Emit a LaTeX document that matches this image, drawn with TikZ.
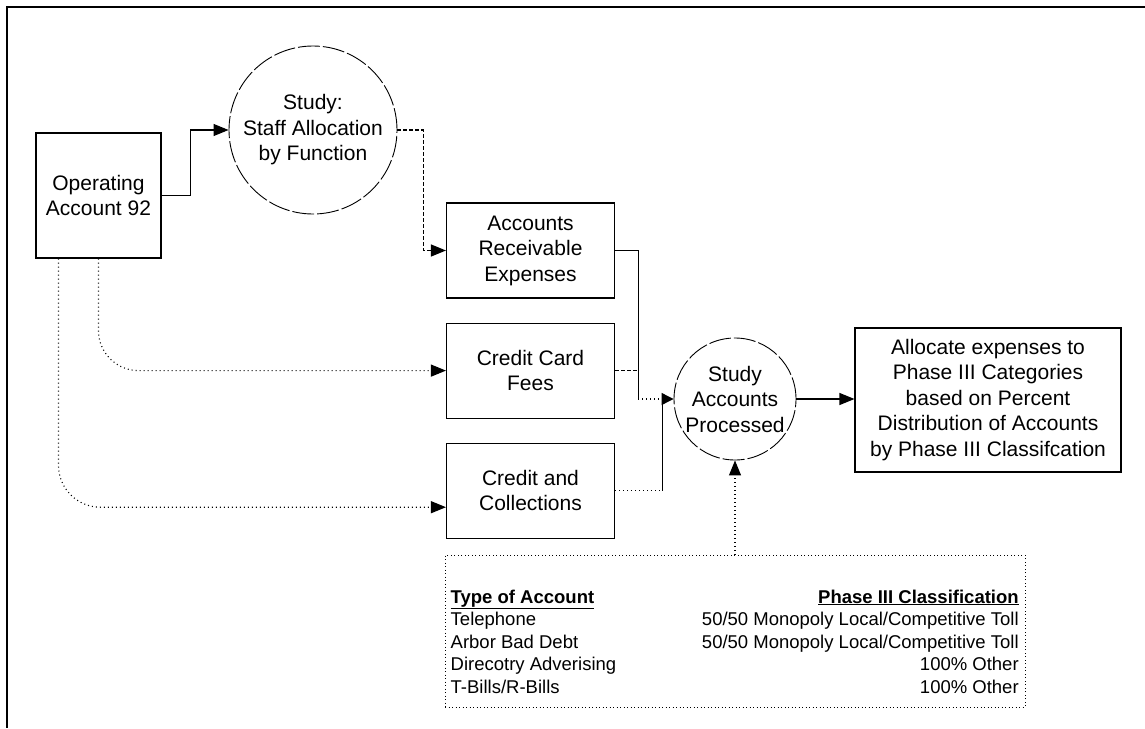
\documentclass[tikz,border=0pt]{standalone}
\usepackage{fontspec}
\setmainfont{Liberation Sans}
\usetikzlibrary{arrows.meta}
\usetikzlibrary{positioning}

\tikzset{
  procbox/.style={draw, line width=1.1pt, minimum width=168pt, minimum height=95pt,
    align=center, inner sep=0pt, font=\fontsize{21}{25.5}\selectfont},
  study/.style={draw, circle, line width=0.9pt, dash pattern=on 22pt off 3pt,
    align=center, inner sep=0pt, font=\fontsize{21}{25.5}\selectfont},
  flow/.style={line width=1.1pt},
  dashflow/.style={flow, dash pattern=on 4pt off 2pt},
  dotflow/.style={flow, dash pattern=on 1pt off 3pt},
  arrowhd/.style={-{Triangle[length=15pt,width=12pt]}},
  tblbox/.style={draw, line width=1pt, dash pattern=on 1pt off 2.5pt,
    minimum width=580pt, minimum height=152pt},
}

\begin{document}
\begin{tikzpicture}[x=1pt,y=-1pt]
      \useasboundingbox (0,0) rectangle (1145,728);
      \draw[line width=1.6pt] (1145,7) -- (7,7) -- (7,728);

      \node[procbox, minimum width=125pt, minimum height=125pt] (op) at (98.5,195.5) {Operating\\Account 92};
      \node[study, minimum size=168pt] (s1) at (313,130) {Study:\\Staff Allocation\\by Function};
      \node[procbox] (ar) at (530.5,250.5) {Accounts\\Receivable\\Expenses};
      \node[procbox, below=24pt of ar] (ccf) {Credit Card\\Fees};
      \node[procbox, below=24pt of ccf] (cc) {Credit and\\Collections};
      \node[study, minimum size=122pt] (s2) at (735,399) {Study\\Accounts\\Processed};
      \node[procbox, minimum width=266pt, minimum height=144pt] (alloc) at (988,400)
        {Allocate expenses to\\Phase III Categories\\based on Percent\\Distribution of Accounts\\by Phase III Classifcation};
      \node[tblbox] (tbl) at (735,631) {};
      \node[anchor=base west, inner sep=0pt, font=\fontsize{18.5}{22.5}\selectfont] (tbltxt)
        at ([xshift=6pt,yshift=-48.5pt]tbl.north west) {%
        \begin{tabular*}{568pt}[t]{@{}l@{\extracolsep{\fill}}r@{}}
          \underline{\textbf{Type of Account}} & \underline{\textbf{Phase III Classification}}\\
          Telephone & 50/50 Monopoly Local/Competitive Toll\\
          Arbor Bad Debt & 50/50 Monopoly Local/Competitive Toll\\
          Direcotry Adverising & 100\% Other\\
          T-Bills/R-Bills & 100\% Other
        \end{tabular*}};

      \draw[flow, arrowhd] (op.east) -- ++(29,0) |- (s1.west);
      \draw[dashflow, arrowhd] (s1.east) -- ++(26,0) |- (ar.west);
      \draw[flow] (ar.east) -- ++(23,0) coordinate (arj) -- (arj |- s2.west);
      \draw[dashflow] (ccf.east) -- (ccf.east -| arj);
      \draw[dotflow] (cc.east) -- ++(47,0) coordinate (ccj);
      \draw[dotflow] (arj |- s2.west) -- (ccj |- s2.west);
      \draw[flow, -{Triangle[length=12pt,width=12pt]}] (ccj) |- (s2.west);
      \draw[flow, arrowhd] (s2.east) -- (s2.east -| alloc.west);
      \draw[dotflow, arrowhd, rounded corners=40pt] (op.south) |- (ccf.west);
      \draw[dotflow, arrowhd, rounded corners=42pt] ([xshift=23pt]op.south west) |- ([yshift=-16.5pt]cc.west);
      \draw[dotflow, arrowhd] (tbl.north) -- (s2.south);
\end{tikzpicture}
\end{document}
